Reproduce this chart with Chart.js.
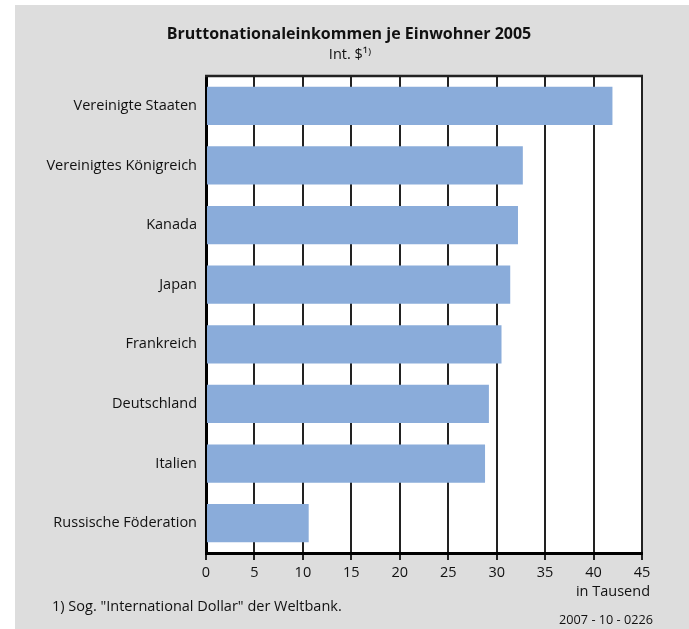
<!DOCTYPE html>
<html>
<head>
<meta charset="utf-8">
<script src="https://cdn.jsdelivr.net/npm/chart.js@4/dist/chart.umd.min.js"></script>
<style>
  html, body { margin: 0; padding: 0; background: #fff; }
  #wrap { width: 689px; height: 629px; }
</style>
</head>
<body>
<div id="wrap"><canvas id="chart" width="689" height="629"></canvas></div>
<script>
const laender = ["Vereinigte Staaten", "Vereinigtes Königreich", "Kanada", "Japan", "Frankreich", "Deutschland", "Italien", "Russische Föderation"];
const einkommen = [41.95, 32.7, 32.2, 31.4, 30.5, 29.2, 28.8, 10.6];   // in Tausend Int. $
const xTicks = [0, 5, 10, 15, 20, 25, 30, 35, 40, 45];

const titel = "Bruttonationaleinkommen je Einwohner 2005";
const untertitel = "Int. $\u00B9\u207E";
const einheit = "in Tausend";
const fussnote = "1) Sog. \"International Dollar\" der Weltbank.";
const quelle = "2007 - 10 - 0226";

const FONT = "'Open Sans', 'Noto Sans', sans-serif";

// gray panel, white plot area, texts
const hintergrund = {
    id: 'hintergrund',
    beforeDraw(chart) {
        const ctx = chart.ctx, a = chart.chartArea;
        ctx.save();
        ctx.fillStyle = '#dddddd';
        ctx.fillRect(15, 5, chart.width - 15, chart.height - 5);
        ctx.fillStyle = '#ffffff';
        ctx.fillRect(a.left, a.top, a.right - a.left, a.bottom - a.top);
        ctx.restore();
    },
    afterDraw(chart) {
        const ctx = chart.ctx, a = chart.chartArea;
        ctx.save();
        // top border
        ctx.strokeStyle = '#222';
        ctx.lineWidth = 2.5;
        ctx.beginPath();
        ctx.moveTo(a.left - 1, a.top);
        ctx.lineTo(a.right + 1, a.top);
        ctx.stroke();

        ctx.fillStyle = '#111';
        ctx.textAlign = 'center';
        ctx.textBaseline = 'middle';
        ctx.font = "bold 16px " + FONT;
        ctx.fillText(titel, 349, 34);
        ctx.font = "14.5px " + FONT;
        ctx.fillText(untertitel, 350, 55);

        ctx.textAlign = 'right';
        ctx.fillText(einheit, 650, 592);
        ctx.textAlign = 'left';
        ctx.fillText(fussnote, 52, 607);
        ctx.textAlign = 'right';
        ctx.font = "12.7px " + FONT;
        ctx.fillText(quelle, 653, 620);
        ctx.restore();
    }
};

new Chart(document.getElementById('chart'), {
    type: 'bar',
    data: {
        labels: laender,
        datasets: [{
            data: einkommen,
            backgroundColor: '#8aacda',
            borderWidth: 0,
            barPercentage: 0.64,
            categoryPercentage: 1.0
        }]
    },
    options: {
        indexAxis: 'y',
        responsive: false,
        animation: false,
        layout: { padding: { top: 76, right: 47, left: 0, bottom: 0 } },
        plugins: {
            legend: { display: false },
            title: { display: false },
            tooltip: { enabled: false }
        },
        scales: {
            x: {
                min: 0,
                max: 45,
                afterFit: (s) => { s.height = 76; },
                afterBuildTicks: (s) => { s.ticks = xTicks.map(v => ({ value: v })); },
                grid: { color: '#222', lineWidth: 2, tickLength: 7, drawTicks: true },
                border: { color: '#000', width: 3 },
                ticks: { color: '#111', font: { family: FONT, size: 14.5 }, padding: 4, maxRotation: 0 }
            },
            y: {
                afterFit: (s) => { s.width = 206; },
                grid: { display: false, drawTicks: false },
                border: { color: '#000', width: 3 },
                ticks: { color: '#111', font: { family: FONT, size: 14.5 }, padding: 9 }
            }
        }
    },
    plugins: [hintergrund]
});
</script>
</body>
</html>
